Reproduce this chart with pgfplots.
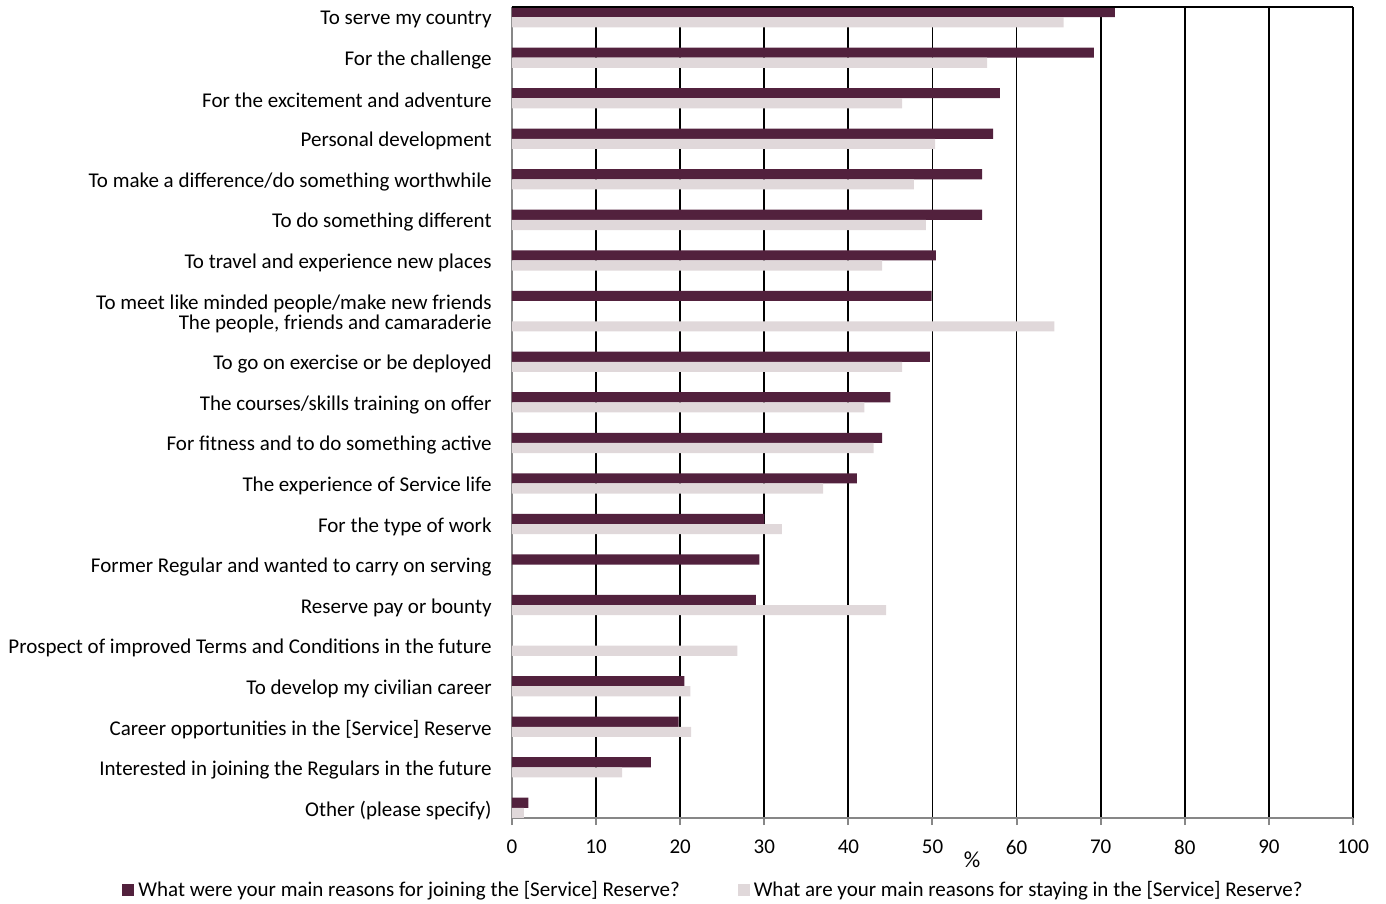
\documentclass[border=0pt]{standalone}
\usepackage{pgfplots}
\pgfplotsset{compat=1.18}
\usepackage{pgfplotstable}
\usepackage{fontspec}
\setmainfont{Carlito}
\usetikzlibrary{calc}

\definecolor{joincol}{HTML}{52213D}
\definecolor{staycol}{HTML}{E0D8DA}
\definecolor{axgray}{HTML}{878787}

% y = centre of the category row (rows counted from the bottom of the plot)
\pgfplotstableread{
y    join  stay
39.5 71.7  65.6
37.5 69.2  56.5
35.5 58.0  46.4
33.5 57.2  50.3
31.5 55.9  47.8
29.5 55.9  49.2
27.5 50.4  44.0
25.5 49.9  nan
24.5 nan   64.5
22.5 49.7  46.4
20.5 45.0  41.9
18.5 44.0  43.0
16.5 41.0  37.0
14.5 30.0  32.1
12.5 29.4  nan
10.5 29.0  44.5
8.5  nan   26.8
6.5  20.5  21.2
4.5  19.8  21.3
2.5  16.5  13.1
0.5  1.95  1.4
}\reasons

\begin{document}
\begin{tikzpicture}
\begin{axis}[
  name=ax,
  scale only axis,
  width=420.5pt, height=405.5pt,
  xmin=0, xmax=100, ymin=0, ymax=40,
  axis x line*=bottom, axis y line*=left,
  axis line style={axgray, line width=1pt},
  tick align=outside,
  major tick length=3.5pt, minor tick length=3.5pt,
  xtick={0,10,...,100},
  xtick style={axgray, line width=1pt},
  xmajorgrids,
  major x grid style={black, line width=0.9pt},
  ytick={0.5,2.5,4.5,6.5,8.5,10.5,12.5,14.5,16.5,18.5,20.5,22.5,24.5,
         25.5,27.5,29.5,31.5,33.5,35.5,37.5,39.5},
  yticklabels={Other (please specify),
    Interested in joining the Regulars in the future,
    Career opportunities in the [Service] Reserve,
    To develop my civilian career,
    Prospect of improved Terms and Conditions in the future,
    Reserve pay or bounty,
    Former Regular and wanted to carry on serving,
    For the type of work,
    The experience of Service life,
    For fitness and to do something active,
    The courses/skills training on offer,
    To go on exercise or be deployed,
    {The people, friends and camaraderie},
    To meet like minded people/make new friends,
    To travel and experience new places,
    To do something different,
    To make a difference/do something worthwhile,
    Personal development,
    For the excitement and adventure,
    For the challenge,
    To serve my country},
  ytick style={draw=none},
  minor ytick={0,1,...,40},
  minor y tick style={axgray, line width=1pt},
  yticklabel style={inner sep=0pt, xshift=-6.5pt, yshift=-1.25pt},
  xticklabel style={yshift=-4pt},
  tick label style={font=\fontsize{10.5}{12}\selectfont},
  /pgf/number format/assume math mode=true,
  xlabel={\%},
  x label style={at={(axis description cs:0.547,0)}, anchor=center,
    yshift=-21pt, font=\fontsize{11.5}{13}\selectfont},
  legend columns=2,
  legend style={draw=none, fill=none, at={(-0.4637,-0.0888)}, anchor=west,
    inner sep=0pt, font=\fontsize{10.5}{12}\selectfont,
    /tikz/every even column/.append style={column sep=27pt}},
  legend cell align=left,
  legend image code/.code={\fill[#1] (0pt,-3pt) rectangle (6pt,3pt);},
  after end axis/.code={\draw[black, line width=0.9pt] (axis cs:0,40) -- (axis cs:100,40);},
]
\addplot[xbar, bar width=0.5, bar shift=0pt, fill=joincol, draw=none]
  table[x=join, y expr=\thisrow{y}+0.25] {\reasons};
\addlegendentry{What were your main reasons for joining the [Service] Reserve?}
\addplot[xbar, bar width=0.5, bar shift=0pt, fill=staycol, draw=none]
  table[x=stay, y expr=\thisrow{y}-0.25] {\reasons};
\addlegendentry{What are your main reasons for staying in the [Service] Reserve?}
\end{axis}
\pgfresetboundingbox
\path[use as bounding box] ($(ax.south west)+(-256pt,-43pt)$) rectangle ($(ax.south west)+(437pt,409pt)$);
\end{tikzpicture}
\end{document}
